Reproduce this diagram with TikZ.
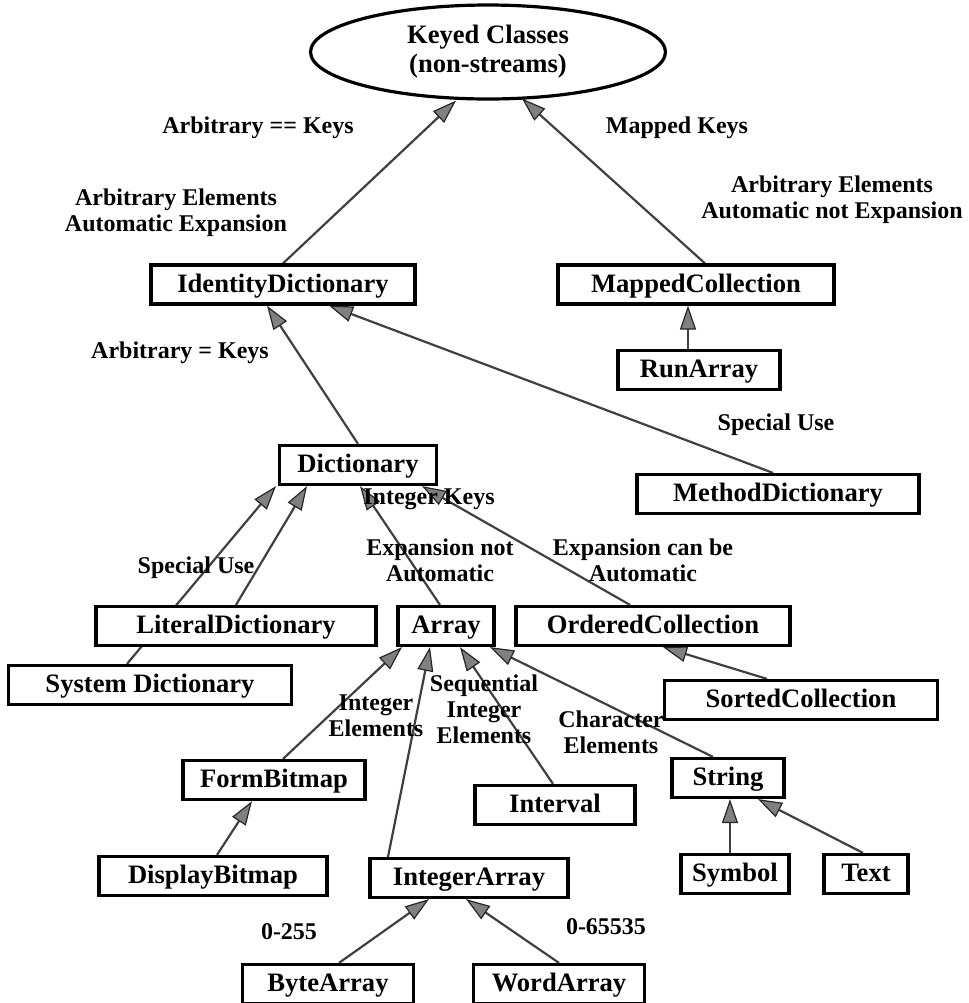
\documentclass[tikz,border=0pt]{standalone}
\usepackage{fontspec}
\setmainfont{Liberation Serif}
\usetikzlibrary{shapes.geometric,arrows.meta,calc,backgrounds}

\tikzset{
  cls/.style={draw, line width=1.6pt, fill=white, minimum height=19.5pt, inner sep=1pt,
    text height=9pt, text depth=1.2pt, font=\fontsize{13.3}{15}\selectfont\bfseries},
  lbl/.style={align=center, inner sep=0pt, font=\fontsize{12}{13}\selectfont\bfseries},
  isa/.style={draw=black!75, line width=1.1pt,
    -{Triangle[length=12pt,width=8pt,fill=black!50,color=black!85,line width=0.6pt]}}
}

\begin{document}
\begin{tikzpicture}[x=0.5pt,y=-0.5pt]
    \useasboundingbox (0,0) rectangle (969,1003);

    % Define the root and the classes
    \node[ellipse, draw, line width=1.6pt, fill=white, minimum width=177.5pt, minimum height=46.5pt,
      align=center, font=\fontsize{13.3}{14.5}\selectfont\bfseries] (keyed) at (488,52) {Keyed Classes\\(non-streams)};
    \node[cls, minimum width=132pt] (iddict) at (283,284.5) {IdentityDictionary};
    \node[cls, minimum width=138pt] (mapped) at (696,284.5) {MappedCollection};
    \node[cls, minimum width=81pt] (runarr) at (699,370) {RunArray};
    \node[cls, minimum width=78.5pt] (dict) at (358,465) {Dictionary};
    \node[cls, minimum width=141pt] (methdict) at (778,494) {MethodDictionary};
    \node[cls, minimum width=140pt] (litdict) at (236,626) {LiteralDictionary};
    \node[cls, minimum width=48pt] (array) at (446,626) {Array};
    \node[cls, minimum width=137pt] (ordered) at (653,626) {OrderedCollection};
    \node[cls, minimum width=141.5pt] (sysdict) at (150,685) {System Dictionary};
    \node[cls, minimum width=136.5pt] (sorted) at (801,700) {SortedCollection};
    \node[cls, minimum width=91pt] (formbm) at (274,780) {FormBitmap};
    \node[cls, minimum width=80pt] (interval) at (555,805) {Interval};
    \node[cls, minimum width=56pt] (string) at (728,778) {String};
    \node[cls, minimum width=114pt] (dispbm) at (213,876) {DisplayBitmap};
    \node[cls, minimum width=99pt] (intarr) at (469,878) {IntegerArray};
    \node[cls, minimum width=54pt] (symbol) at (735,874) {Symbol};
    \node[cls, minimum width=42pt] (text) at (866,874) {Text};
    \node[cls, minimum width=85.5pt] (bytearr) at (328,984) {ByteArray};
    \node[cls, minimum width=85.5pt] (wordarr) at (559,984) {WordArray};

    % Draw the inheritance links behind the boxes
    \begin{pgfonlayer}{background}
    \draw[isa] (iddict.north) -- ($(keyed.south)+(-32,0)$);
    \draw[isa] ($(mapped.north)+(9,0)$) -- ($(keyed.south)+(34,-2)$);
    \draw[isa] ($(runarr.north)+(-11,0)$) -- ($(mapped.south)+(-8,0)$);
    \draw[isa] (dict.north) -- ($(iddict.south)+(-16,0)$);
    \draw[isa] ($(methdict.north)+(-5,0)$) -- ($(iddict.south)+(46,0)$);
    \draw[isa] ($(sysdict.north)+(-23,0)$) -- ($(dict.south)+(-82,0)$);
    \draw[isa] (litdict.north) -- ($(dict.south)+(-51,0)$);
    \draw[isa] ($(array.north)+(-6,0)$) -- ($(dict.south)+(2,0)$);
    \draw[isa] ($(ordered.north)+(-23,0)$) -- ($(dict.south)+(64,0)$);
    \draw[isa] ($(sorted.north)+(-34,0)$) -- ($(ordered.south)+(10,0)$);
    \draw[isa] ($(formbm.north)+(9,0)$) -- ($(array.south)+(-44,0)$);
    \draw[isa] ($(intarr.north)+(-81,0)$) -- ($(array.south)+(-16,0)$);
    \draw[isa] ($(interval.north)+(-2,0)$) -- ($(array.south)+(14,0)$);
    \draw[isa] ($(string.north)+(-15,0)$) -- ($(array.south)+(44,0)$);
    \draw[isa] ($(dispbm.north)+(4,0)$) -- ($(formbm.south)+(-22,0)$);
    \draw[isa] ($(symbol.north)+(-5,0)$) -- ($(string.south)+(2,0)$);
    \draw[isa] ($(text.north)+(-3,0)$) -- ($(string.south)+(30,0)$);
    \draw[isa] ($(bytearr.north)+(11,0)$) -- ($(intarr.south)+(-40,0)$);
    \draw[isa] (wordarr.north) -- ($(intarr.south)+(-3,0)$);
    \end{pgfonlayer}

    % Place the labels
    \node[lbl] (lkeys) at (258,128) {Arbitrary == Keys};
    \node[lbl] (lmapkeys) at (677,128) {Mapped Keys};
    \node[lbl] (lautoexp) at (176,213) {Arbitrary Elements\\Automatic Expansion};
    \node[lbl] (lnotexp) at (832,200) {Arbitrary Elements\\Automatic not Expansion};
    \node[lbl] (leqkeys) at (180,353) {Arbitrary = Keys};
    \node[lbl] (lspecial) at (776,425) {Special Use};
    \node[lbl] (lintkeys) at (429,499) {Integer Keys};
    \node[lbl] (lspeclit) at (196,568) {Special Use};
    \node[lbl] (lexpnot) at (440,560) {Expansion not\\Automatic};
    \node[lbl] (lexpcan) at (643,560) {Expansion can be\\Automatic};
    \node[lbl] (lintel) at (376,716) {Integer\\Elements};
    \node[lbl] (lseqel) at (484,709) {Sequential\\Integer\\Elements};
    \node[lbl] (lcharel) at (611,732) {Character\\Elements};
    \node[lbl] (lbyte) at (289,932) {0-255};
    \node[lbl] (lword) at (606,927) {0-65535};

\end{tikzpicture}
\end{document}
